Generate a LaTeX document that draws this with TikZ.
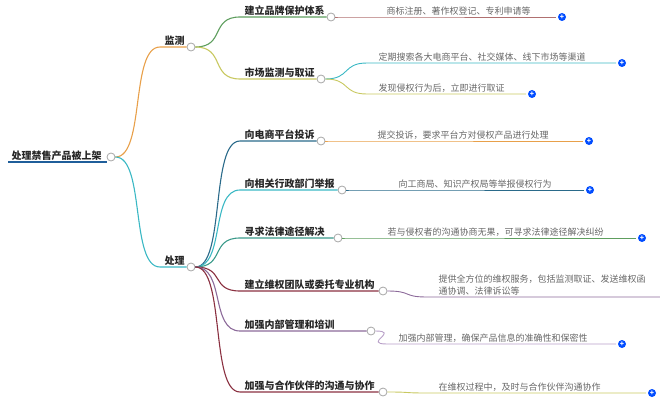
\documentclass[tikz,border=0pt]{standalone}
\usepackage{fontspec}
\setmainfont{Noto Sans CJK SC}
\begin{document}
\begin{tikzpicture}[x=1pt,y=-1pt,line width=1.1pt,
  hub/.style={circle,draw=gray!70,fill=white,line width=0.8pt,inner sep=0pt,minimum size=8pt},
  br/.style={anchor=south west,inner sep=1pt,font=\bfseries\fontsize{10}{11}\selectfont,text=black!85},
  lf/.style={anchor=south west,inner sep=1pt,font=\fontsize{9}{12}\selectfont,text=black!60,align=left},
  plus/.style={circle,fill=blue!70!cyan,text=white,inner sep=0pt,minimum size=8pt,font=\bfseries\fontsize{7}{7}\selectfont}]
\useasboundingbox (0,0) rectangle (660,401);
\definecolor{cOr}{HTML}{E8A04A}\definecolor{cTe}{HTML}{3BB8C4}
\definecolor{cGr}{HTML}{5E9E5E}\definecolor{cYg}{HTML}{C8C860}
\definecolor{cRd}{HTML}{B07070}\definecolor{cBl}{HTML}{2A6A8A}
\definecolor{cPu}{HTML}{8C6A9A}\definecolor{cLp}{HTML}{B8A0C8}
\definecolor{cMr}{HTML}{8A3040}\definecolor{cGt}{HTML}{3A9A8A}
\definecolor{cRoot}{HTML}{1F5E9A}
% root
\coordinate (r0) at (8,162);
\node[br] (rt) at (10,162) {处理禁售产品被上架};
\node[hub] (r) at (111,157) {};
\draw[cRoot,line width=1.8pt] (r0) -- (r.west|-r0);
% level1
\coordinate (m0) at (160,47); \node[br] (mt) at (163,47) {监测}; \node[hub] (m) at (191,47) {};
\coordinate (p0) at (160,267); \node[br] (pt) at (163,267) {处理}; \node[hub] (p) at (191,267) {};
\draw[cOr] (r.east) .. controls +(30,0) and +(-30,0) .. (m0) -- (m.west);
\draw[cTe] (r.east) .. controls +(30,0) and +(-30,0) .. (p0) -- (p.west);
% level 2
\newcommand\mkbr[4]{% name, y, text, circle x
  \coordinate (#1s) at (240,#2);
  \node[br] (#1t) at (243,#2) {#3};
  \node[hub] (#1) at (#4,#2) {};}
\mkbr{a}{17}{建立品牌保护体系}{331}
\mkbr{b}{79}{市场监测与取证}{321}
\mkbr{c}{141}{向电商平台投诉}{321}
\mkbr{d}{190}{向相关行政部门举报}{342}
\mkbr{e}{238}{寻求法律途径解决}{338}
\mkbr{f}{291}{建立维权团队或委托专业机构}{383}
\mkbr{g}{331}{加强内部管理和培训}{371}
\mkbr{h}{392}{加强与合作伙伴的沟通与协作}{383}
\draw[cGr] (m.east) .. controls +(30,0) and +(-30,0) .. (as) -- (a.west);
\draw[cYg] (m.east) .. controls +(30,0) and +(-30,0) .. (bs) -- (b.west);
\draw[cBl] (p.east) .. controls +(30,0) and +(-30,0) .. (cs) -- (c.west);
\draw[cTe] (p.east) .. controls +(30,0) and +(-30,0) .. (ds) -- (d.west);
\draw[cGt] (p.east) .. controls +(30,0) and +(-30,0) .. (es) -- (e.west);
\draw[cMr] (p.east) .. controls +(30,0) and +(-30,0) .. (fs) -- (f.west);
\draw[cPu] (p.east) .. controls +(30,0) and +(-30,0) .. (gs) -- (g.west);
\draw[cMr] (p.east) .. controls +(30,0) and +(-30,0) .. (hs) -- (h.west);
% leaves
\newcommand\mklf[7]{% name, parent, line y, text x, text, end x, color
  \coordinate (#1s) at (#4-10,#3);
  \coordinate (#1e) at (#6,#3);
  \node[lf] (#1t) at (#4,#3) {#5};
  \draw[#7,line width=0.9pt] (#2.east) .. controls +(25,0) and +(-25,0) .. (#1s) -- (#1e);}
\mklf{la}{a}{17}{385}{商标注册、著作权登记、专利申请等}{556}{cRd}
\mklf{lb}{b}{63}{377}{定期搜索各大电商平台、社交媒体、线下市场等渠道}{616}{cTe}
\mklf{lc}{b}{94}{377}{发现侵权行为后，立即进行取证}{526}{cYg}
\mklf{ld}{c}{141}{376}{提交投诉，要求平台方对侵权产品进行处理}{583}{cOr}
\mklf{le}{d}{190}{397}{向工商局、知识产权局等举报侵权行为}{584}{cBl}
\mklf{lf}{e}{238}{386}{若与侵权者的沟通协商无果，可寻求法律途径解决纠纷}{636}{cGr}
\mklf{lg}{f}{297}{437}{提供全方位的维权服务，包括监测取证、发送维权函\\通协调、法律诉讼等}{660}{cPu}
\mklf{lh}{g}{344}{397}{加强内部管理，确保产品信息的准确性和保密性}{616}{cLp}
\mklf{li}{h}{393}{437}{在维权过程中，及时与合作伙伴沟通协作}{646}{cYg}
\foreach \n in {la,lb,lc,ld,le,lf,lh,li}{\node[plus] at ([xshift=6pt]\n e) {+};}
\end{tikzpicture}
\end{document}
